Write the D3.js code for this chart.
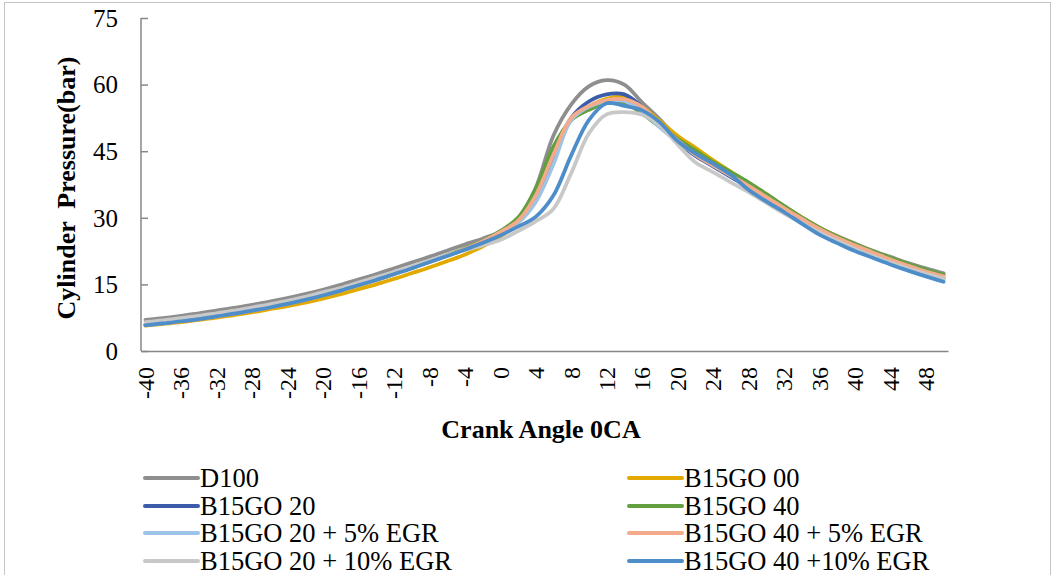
<!DOCTYPE html>
<html>
<head>
<meta charset="utf-8">
<script src="https://cdn.jsdelivr.net/npm/d3@7"></script>
<style>
    body { margin: 0; background: #fff; }
    #chart-area { width: 1053px; height: 575px; }
    text { font-family: "Liberation Serif", "Times New Roman", Times, serif; fill: #000; }
    .axis-title { font-weight: bold; font-size: 26px; white-space: pre; }
    .tick-label { font-size: 24px; }
    .y-label { font-size: 25px; }
    .legend-label { font-size: 26.5px; white-space: pre; }
</style>
</head>
<body>
<div id="chart-area"></div>
<script>

// crank angle (deg), one value every 2 degrees
let angles = [-40, -38, -36, -34, -32, -30, -28, -26, -24, -22, -20, -18, -16, -14, -12, -10, -8, -6, -4, -2,
    0, 2, 4, 6, 8, 10, 12, 14, 16, 18, 20, 22, 24, 26, 28, 30, 32, 34, 36, 38, 40, 42, 44, 46, 48, 50];

let yTicks = [0, 15, 30, 45, 60, 75];
let xTicks = [-40, -36, -32, -28, -24, -20, -16, -12, -8, -4, 0, 4, 8, 12, 16, 20, 24, 28, 32, 36, 40, 44, 48];

let seriesNames = ["D100", "B15GO 00", "B15GO 20", "B15GO 40",
    "B15GO 20 + 5% EGR", "B15GO 40 + 5% EGR", "B15GO 20 + 10% EGR", "B15GO 40 +10% EGR"];

// cylinder pressure (bar)
let d100 = [7.0, 7.4, 7.9, 8.5, 9.1, 9.7, 10.4, 11.1, 11.9, 12.8, 13.8, 14.9, 16.1, 17.3, 18.6, 19.9, 21.2, 22.6, 24.0, 25.3,
    26.9, 29.7, 36.7, 48.5, 55.5, 59.6, 61.0, 60.0, 56.0, 52.2, 48.0, 45.0, 42.4, 40.0, 37.6, 35.1, 32.6, 30.1, 27.8, 25.9,
    24.2, 22.6, 21.2, 19.8, 18.6, 17.5];
let b15go00 = [5.7, 6.1, 6.5, 7.0, 7.5, 8.1, 8.7, 9.4, 10.1, 10.9, 11.8, 12.8, 13.9, 15.0, 16.2, 17.5, 18.8, 20.2, 21.7, 23.5,
    25.8, 28.8, 34.5, 44.5, 52.0, 55.0, 56.8, 57.2, 55.0, 51.8, 48.5, 45.8, 43.0, 40.4, 37.8, 35.2, 32.6, 30.1, 27.8, 25.8,
    24.0, 22.4, 20.9, 19.5, 18.2, 17.1];
let b15go20 = [5.9, 6.3, 6.8, 7.3, 7.9, 8.5, 9.2, 9.9, 10.7, 11.6, 12.6, 13.7, 14.9, 16.1, 17.4, 18.7, 20.1, 21.5, 23.0, 24.6,
    26.8, 29.2, 34.8, 44.0, 52.5, 56.2, 57.8, 57.8, 55.0, 50.8, 47.0, 44.0, 41.6, 39.2, 36.8, 34.3, 31.8, 29.3, 27.0, 25.0,
    23.3, 21.7, 20.2, 18.8, 17.5, 16.3];
let b15go40 = [5.9, 6.3, 6.7, 7.2, 7.8, 8.4, 9.1, 9.8, 10.6, 11.5, 12.5, 13.6, 14.8, 16.0, 17.3, 18.7, 20.1, 21.6, 23.1, 24.8,
    27.0, 30.0, 36.5, 46.0, 52.0, 54.3, 55.8, 55.8, 53.5, 50.5, 47.8, 45.2, 42.6, 40.3, 38.0, 35.4, 32.7, 30.1, 27.8, 25.8,
    24.1, 22.5, 21.0, 19.6, 18.3, 17.2];
let b15go20egr5 = [5.9, 6.3, 6.8, 7.3, 7.9, 8.5, 9.2, 9.9, 10.7, 11.6, 12.6, 13.7, 14.9, 16.1, 17.4, 18.7, 20.0, 21.4, 22.9, 24.5,
    26.6, 28.8, 33.5, 42.0, 52.0, 55.0, 56.3, 56.3, 54.0, 50.4, 47.2, 44.3, 41.8, 39.5, 37.0, 34.5, 32.0, 29.5, 27.2, 25.2,
    23.5, 21.9, 20.4, 19.0, 17.8, 16.6];
let b15go40egr5 = [5.9, 6.3, 6.7, 7.2, 7.8, 8.4, 9.1, 9.8, 10.6, 11.5, 12.5, 13.6, 14.8, 16.0, 17.3, 18.7, 20.1, 21.5, 23.0, 24.7,
    26.8, 29.3, 35.0, 44.2, 52.5, 55.2, 56.5, 56.7, 55.0, 51.0, 47.5, 44.2, 41.8, 39.5, 37.2, 34.7, 32.2, 29.8, 27.5, 25.5,
    23.8, 22.2, 20.6, 19.2, 17.9, 16.8];
let b15go20egr10 = [6.5, 6.9, 7.4, 7.9, 8.5, 9.1, 9.8, 10.5, 11.3, 12.2, 13.2, 14.2, 15.4, 16.6, 17.8, 19.1, 20.4, 21.6, 22.7, 23.8,
    25.0, 27.0, 29.2, 32.0, 40.0, 49.0, 53.3, 53.8, 53.2, 50.8, 46.5, 42.5, 40.3, 38.0, 35.8, 33.4, 31.0, 28.8, 26.7, 24.8,
    23.0, 21.4, 19.9, 18.6, 17.4, 16.3];
let b15go40egr10 = [5.8, 6.2, 6.7, 7.2, 7.8, 8.4, 9.1, 9.8, 10.6, 11.5, 12.5, 13.6, 14.8, 16.0, 17.3, 18.6, 20.0, 21.4, 22.8, 24.3,
    26.0, 28.0, 30.2, 35.0, 44.0, 52.0, 55.8, 55.2, 54.2, 51.5, 47.3, 44.5, 42.2, 39.7, 36.3, 33.7, 31.3, 28.7, 26.2, 24.3,
    22.5, 21.0, 19.5, 18.1, 16.8, 15.6];

let seriesValues = [d100, b15go00, b15go20, b15go40, b15go20egr5, b15go40egr5, b15go20egr10, b15go40egr10];
let seriesColors = ["#8e8e8e", "#e2aa00", "#3b5da9", "#62a03f", "#9dc3e6", "#f4ab8b", "#c8c8c8", "#4d8dca"];


// SVG drawing area
let margin = {top: 18, right: 105, bottom: 224, left: 141};
let width = 1053 - margin.left - margin.right;
let height = 575 - margin.top - margin.bottom;

let svg = d3.select("#chart-area").append("svg")
    .attr("width", 1053)
    .attr("height", 575);

// outer chart border
svg.append("rect")
    .attr("x", 4.5)
    .attr("y", 2.5)
    .attr("width", 1046)
    .attr("height", 600)
    .attr("fill", "none")
    .attr("stroke", "#c4c4c4");

let g = svg.append("g")
    .attr("transform", "translate(" + margin.left + "," + margin.top + ")");

// category axis: points sit in the middle of each 1 degree slot
let x = d3.scaleLinear()
    .domain([-40.5, 50.5])
    .range([0, width]);

let y = d3.scaleLinear()
    .domain([0, 75])
    .range([height, 0]);

// y axis (inside tick marks)
let yAxis = g.append("g")
    .call(d3.axisRight(y).tickValues(yTicks).tickSize(7).tickFormat(""));
yAxis.select(".domain").attr("stroke", "#878787").attr("stroke-width", 1.5).attr("d", "M0,0V" + height);
yAxis.selectAll(".tick line").attr("stroke", "#878787").attr("stroke-width", 1.5);

g.selectAll(".y-label")
    .data(yTicks)
    .enter().append("text")
    .attr("class", "y-label")
    .attr("x", -23)
    .attr("y", d => y(d))
    .attr("dy", "0.35em")
    .attr("text-anchor", "end")
    .text(d => d);

// x axis
let xAxis = g.append("g")
    .attr("transform", "translate(0," + height + ")")
    .call(d3.axisBottom(x).tickValues([]).tickSizeOuter(0));
xAxis.select(".domain").attr("stroke", "#878787").attr("stroke-width", 1.5);

g.selectAll(".x-label")
    .data(xTicks)
    .enter().append("text")
    .attr("class", "tick-label")
    .attr("text-anchor", "end")
    .attr("dy", "0.35em")
    .attr("transform", d => "translate(" + x(d) + "," + (height + 16) + ") rotate(-90)")
    .text(d => d);

// axis titles
svg.append("text")
    .attr("class", "axis-title")
    .attr("x", 541)
    .attr("y", 438)
    .attr("text-anchor", "middle")
    .text("Crank Angle 0CA");

svg.append("text")
    .attr("class", "axis-title")
    .attr("text-anchor", "middle")
    .attr("transform", "translate(75,188) rotate(-90)")
    .text("Cylinder  Pressure(bar)");

// lines
let line = d3.line()
    .x((d, i) => x(angles[i]))
    .y(d => y(d))
    .curve(d3.curveCatmullRom.alpha(0.5));

g.selectAll(".series")
    .data(seriesValues)
    .enter().append("path")
    .attr("class", "series")
    .attr("d", line)
    .attr("fill", "none")
    .attr("stroke", (d, i) => seriesColors[i])
    .attr("stroke-width", 3.75)
    .attr("stroke-linejoin", "round")
    .attr("stroke-linecap", "round");

// legend, two columns
let legendCols = [145, 629];
let legendRows = [478, 506, 533, 561];

let legend = svg.selectAll(".legend")
    .data(seriesNames)
    .enter().append("g")
    .attr("class", "legend")
    .attr("transform", (d, i) => "translate(" + legendCols[i % 2] + "," + legendRows[Math.floor(i / 2)] + ")");

legend.append("line")
    .attr("x1", 0)
    .attr("x2", 53)
    .attr("stroke", (d, i) => seriesColors[i])
    .attr("stroke-width", 4)
    .attr("stroke-linecap", "round");

legend.append("text")
    .attr("class", "legend-label")
    .attr("x", 55)
    .attr("dy", "0.33em")
    .text(d => d);

</script>
</body>
</html>
